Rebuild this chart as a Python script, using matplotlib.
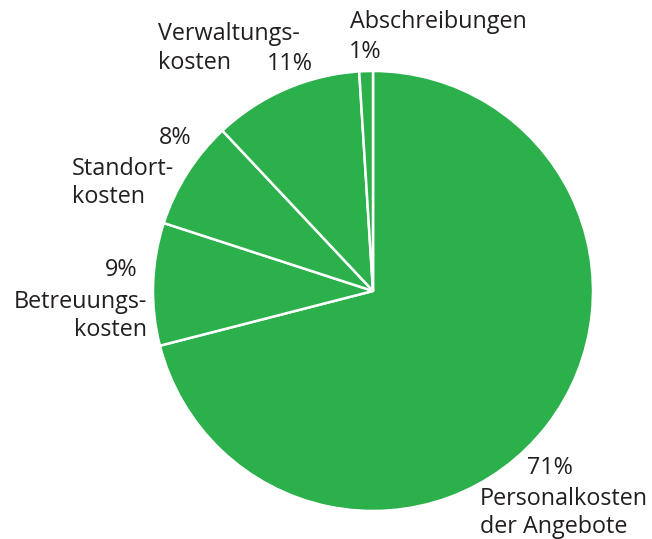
import matplotlib
matplotlib.use("Agg")
import matplotlib.pyplot as plt

categories = ["Personalkosten der Angebote", "Betreuungskosten", "Standortkosten",
              "Verwaltungskosten", "Abschreibungen"]
values = [71, 9, 8, 11, 1]
pct_labels = ["71%", "9%", "8%", "11%", "1%"]

W, H = 652, 539
fig = plt.figure(figsize=(W / 100, H / 100), dpi=100)
ax = fig.add_axes([0, 0, 1, 1])

green = "#2bb04b"
ax.pie(values, center=(373, H - 291), radius=220, startangle=90, counterclock=False,
       colors=[green] * len(values),
       wedgeprops=dict(edgecolor="white", linewidth=1.8), frame=True)
ax.set_xlim(0, W)
ax.set_ylim(0, H)
ax.set_aspect("equal")
ax.axis("off")

tc = "#231f20"
fs = 16.8
fam = ["Open Sans", "DejaVu Sans"]

def t(x, y, s, ha="left"):
    ax.text(x, H - y, s, ha=ha, va="center", fontsize=fs, color=tc, family=fam)

# Abschreibungen
t(350, 22, "Abschreibungen")
t(349, 52, pct_labels[4])
# Verwaltungskosten
t(158, 34, "Verwaltungs-")
t(158, 63, "kosten")
t(313, 64, pct_labels[3], ha="right")
# Standortkosten
t(191, 138, pct_labels[2], ha="right")
t(72, 169, "Standort-")
t(72, 197, "kosten")
# Betreuungskosten
t(138, 270, pct_labels[1], ha="right")
t(147, 302, "Betreuungs-", ha="right")
t(147, 330, "kosten", ha="right")
# Personalkosten
t(527, 468, pct_labels[0])
t(480, 499, "Personalkosten")
t(480, 527, "der Angebote")

fig.savefig("out.png", dpi=100)
